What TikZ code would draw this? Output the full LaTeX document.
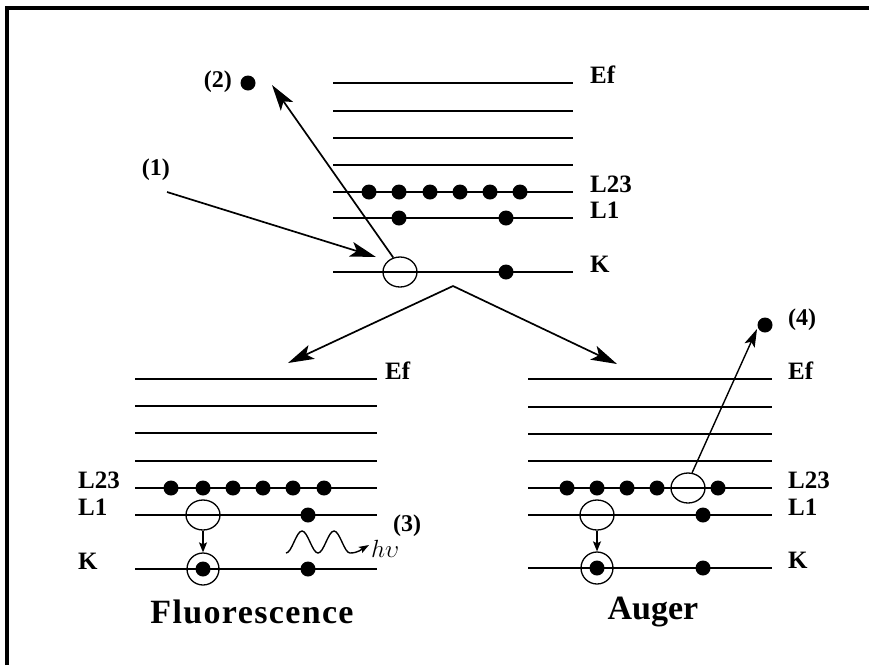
\documentclass[tikz,border=0pt]{standalone}
\usepackage{fontspec}
\setmainfont{Liberation Serif}
\usetikzlibrary{arrows.meta,shapes.geometric}
\begin{document}
\begin{tikzpicture}[x=1pt,y=-1pt,
  level/.style={line width=1.8pt},
  lbl/.style={font=\fontsize{25}{25}\selectfont\bfseries, anchor=base west, inner sep=0pt},
  num/.style={font=\fontsize{24}{24}\selectfont\bfseries, inner sep=0pt},
  title/.style={font=\fontsize{34}{34}\selectfont\bfseries, inner sep=0pt},
  elec/.style={circle, fill=black, minimum size=15pt, inner sep=0pt},
  hole/.style={ellipse, draw, line width=1.3pt, minimum width=34pt, minimum height=30pt, inner sep=0pt},
  ring/.style={circle, draw, line width=1.3pt, minimum size=32pt, inner sep=0pt},
  big/.style={line width=1.7pt, -{Stealth[length=26pt,width=15pt,inset=6pt]}},
  small/.style={line width=1.2pt, -{Stealth[length=10pt,width=8pt,inset=2pt]}},
  frame/.style={line width=4pt}
]
\useasboundingbox (0,0) rectangle (869,665);
\draw[frame] (7,665) -- (7,8) -- (869,8);

% ---------- top diagram ----------
\foreach \y [count=\i] in {83,111,138,165,192,218,272}
  \draw[level] (333,\y) coordinate (tl\i) -- (573,\y) coordinate (tr\i);
\node[lbl] (tEf) at (590,83) {Ef};
\node[lbl] (tL23) at (590,192) {L23};
\node[lbl] (tL1) at (590,218) {L1};
\node[lbl] (tK) at (590,272) {K};
\foreach \x [count=\i] in {369,399,430,460,490,520}
  \node[elec] (ta\i) at (\x,192) {};
\node[elec] (tb1) at (399,218) {};
\node[elec] (tb2) at (506,218) {};
\node[elec] (tk2) at (506,272) {};
\node[hole] (th) at (400,272) {};
\node[elec] (e2) at (248,83) {};
\node[num, anchor=east] (n2) at (232,82) {(2)};
\node[num, anchor=east] (n1) at (170,170) {(1)};
\coordinate (s1) at (167,192);
\coordinate (tip1) at (376,257);
\coordinate (tip2) at (272,85);
\draw[big] (s1) -- (tip1);
\draw[big] (th.115) -- (tip2);
\coordinate (apex) at (453,286);
\coordinate (tipL) at (288,363);
\coordinate (tipR) at (617,364);
\draw[big] (apex) -- (tipL);
\draw[big] (apex) -- (tipR);

% ---------- bottom left: Fluorescence ----------
\foreach \y [count=\i] in {379,406,433,461,488,515,569}
  \draw[level] (135,\y) coordinate (fl\i) -- (377,\y) coordinate (fr\i);
\node[lbl] (fEf) at (385,379) {Ef};
\node[lbl] (fL23) at (78,488) {L23};
\node[lbl] (fL1) at (78,515) {L1};
\node[lbl] (fK) at (78,569) {K};
\foreach \x [count=\i] in {171,203,233,263,293,324}
  \node[elec] (fa\i) at (\x,488) {};
\node[hole] (fh) at (203,515) {};
\node[elec] (fb2) at (308,515) {};
\node[elec] (fk1) at (203,569) {};
\node[ring] (fr) at (203,569) {};
\node[elec] (fk2) at (308,569) {};
\draw[small] (fh.south) -- (fr.north);
\coordinate (w0) at (286,553);
\coordinate (wtip) at (369,545);
\draw[line width=1.4pt, -{Stealth[length=10pt,width=7pt,inset=2pt]}]
  (w0) cos (294,542) sin (302,531) cos (310,542) sin (318,553)
       cos (326,542) sin (334,531) cos (342,542) sin (350,553)
       to[out=0,in=210] (wtip);
\node[font=\fontsize{24}{24}\selectfont, anchor=west, inner sep=0pt] (hv) at (371,549) {$h\upsilon$};
\node[num, anchor=west] (n3) at (393,526) {(3)};
\node[title] (fluo) at (252,612) {\addfontfeatures{LetterSpace=4}Fluorescence};

% ---------- bottom right: Auger ----------
\foreach \y [count=\i] in {379,407,434,461,488,515,568}
  \draw[level] (528,\y) coordinate (al\i) -- (772,\y) coordinate (ar\i);
\node[lbl] (aEf) at (788,379) {Ef};
\node[lbl] (aL23) at (788,488) {L23};
\node[lbl] (aL1) at (788,515) {L1};
\node[lbl] (aK) at (788,568) {K};
\foreach \x [count=\i] in {567,597,627,657,718}
  \node[elec] (aa\i) at (\x,488) {};
\node[hole] (ah2) at (688,488) {};
\node[hole] (ah) at (597,515) {};
\node[elec] (ab2) at (703,515) {};
\node[elec] (ak1) at (597,568) {};
\node[ring] (ar) at (597,568) {};
\node[elec] (ak2) at (703,568) {};
\draw[small] (ah.south) -- (ar.north);
\node[elec] (e4) at (765,325) {};
\coordinate (tip4) at (757,329);
\draw[line width=1.4pt, -{Stealth[length=18pt,width=11pt,inset=4pt]}] (ah2.75) -- (tip4);
\node[num, anchor=west] (n4) at (788,320) {(4)};
\node[title] (aug) at (653,612) {Auger};
\end{tikzpicture}
\end{document}
